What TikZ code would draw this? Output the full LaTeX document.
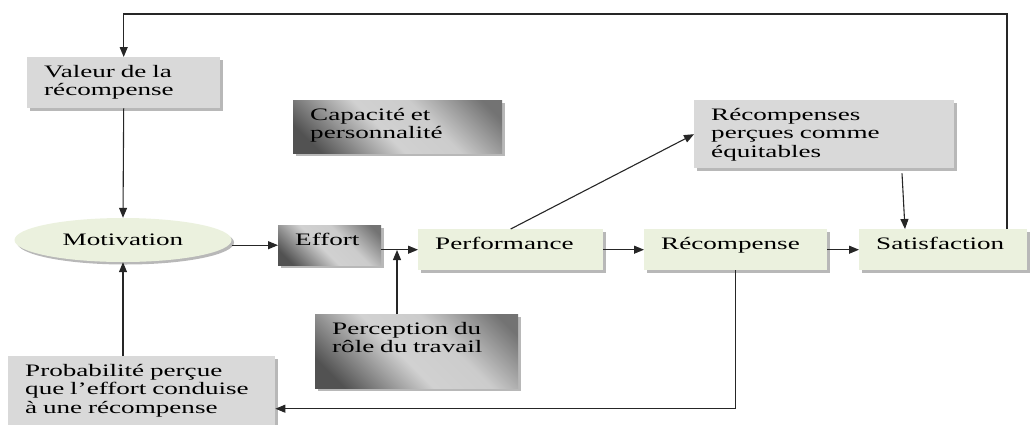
\documentclass[tikz,border=0pt]{standalone}
\usepackage{fontspec}
\setmainfont{Liberation Serif}[FakeStretch=1.55]
\usetikzlibrary{arrows.meta,shadows,shapes.geometric}

\pgfdeclarehorizontalshading{steel}{100bp}{color(0bp)=(black!68); color(22bp)=(black!68); color(45bp)=(black!18); color(60bp)=(black!20); color(80bp)=(black!55); color(100bp)=(black!55)}
\definecolor{paleolive}{RGB}{235,241,222}
\definecolor{palegrey}{RGB}{217,217,217}
\hyphenpenalty=10000

\begin{document}
\begin{tikzpicture}[
        x=1pt, y=-1pt,
        font=\fontsize{17.5}{18.5}\selectfont,
        shadowed/.style={
            drop shadow={shadow xshift=2.5pt, shadow yshift=-2.5pt, fill=black!28, opacity=1},
        },
        box/.style={
            shadowed,
            anchor=north west,
            align=left,
            inner xsep=17pt,
            inner ysep=0pt,
            text height=20pt,
            text depth=21pt,
        },
        greybox/.style={box, fill=palegrey},
        olivebox/.style={box, fill=paleolive},
        steelbox/.style={box, shade, shading=steel, shading angle=45},
        oval/.style={
            shadowed,
            ellipse,
            fill=paleolive,
            minimum width=217pt,
            minimum height=44pt,
            inner sep=0pt,
        },
        conn/.style={
            draw=black!85,
            line width=1.1pt,
            -{Triangle[length=10pt, width=8pt]},
        },
    ]

    \useasboundingbox (0,0) rectangle (1035,424);

    \node[greybox, text width=159pt, text depth=31pt]  (valeur)   at (27,57)   {Valeur de la\\récompense};
    \node[steelbox, text width=175pt, text depth=33pt] (capacite) at (293,100) {Capacité et\\personnalité};
    \node[greybox, text width=226pt, text depth=48pt]  (equit)    at (694,100) {Récompenses\\perçues comme\\équitables};
    \node[oval]                                        (motiv)    at (123,240) {Motivation};
    \node[steelbox, text width=69pt, text depth=20pt]  (effort)   at (278,225) {Effort};
    \node[olivebox, text width=151pt]                  (perf)     at (418,229) {Performance};
    \node[olivebox, text width=149pt]                  (recomp)   at (644,229) {Récompense};
    \node[olivebox, text width=134pt]                  (satis)    at (859,229) {Satisfaction};
    \node[steelbox, text width=169pt, text depth=54pt] (percep)   at (315,314) {Perception du\\rôle du travail};
    \node[greybox, text width=233pt, text depth=49pt]  (proba)    at (8,356)   {Probabilité~perçue\\que l’effort~conduise\\à une~récompense};

    \coordinate (corner) at (1007,14);
    \coordinate (join)   at (397,250);

    \draw[conn] (satis.north -| corner) -- (corner) -| (valeur.north);
    \draw[conn] (valeur.south) -- (motiv.north);
    \draw[conn] (proba.north -| motiv.south) -- (motiv.south);
    \draw[conn] (motiv.east |- effort.west) -- (effort.west);
    \draw[conn] (effort.east |- perf.west) -- (perf.west);
    \draw[conn] (percep.north -| join) -- (join);
    \draw[conn] (perf) -- (recomp);
    \draw[conn] (recomp) -- (satis);
    \draw[conn] (perf.north) -- (equit.west);
    \draw[conn] ([xshift=208pt, yshift=-5pt]equit.south west) -- ([xshift=46pt]satis.north west);
    \draw[conn] (recomp.south) |- ([yshift=-18pt]proba.east);

\end{tikzpicture}
\end{document}
